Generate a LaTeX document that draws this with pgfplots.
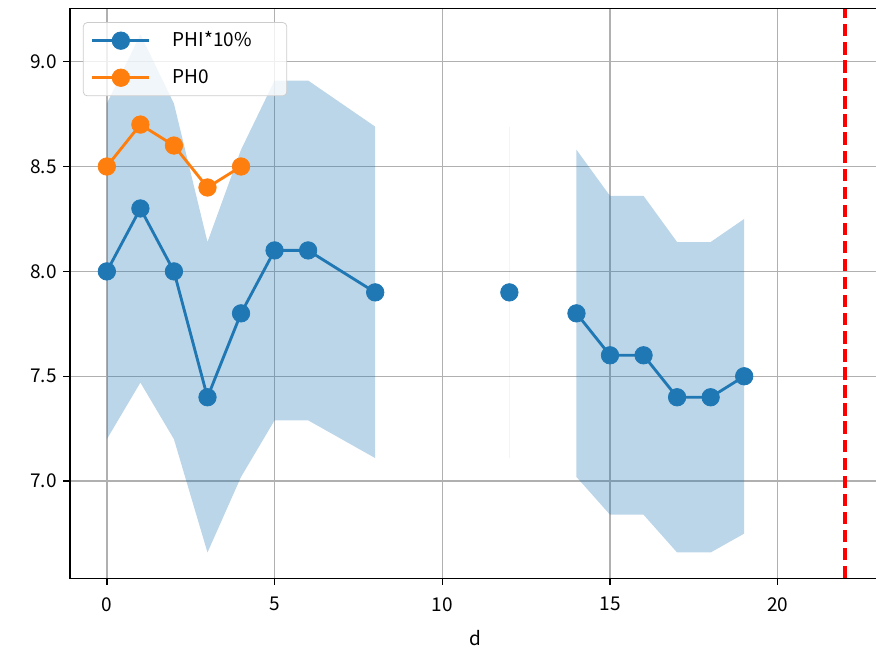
\documentclass[border=0pt]{standalone}
\usepackage{fontspec}
\setmainfont{Noto Sans CJK JP}
\usepackage{pgfplots}
\pgfplotsset{compat=1.18}

\definecolor{tabblue}{RGB}{31,119,180}
\definecolor{taborange}{RGB}{255,127,14}
\definecolor{gridgray}{RGB}{176,176,176}
\definecolor{legendedge}{RGB}{204,204,204}

\begin{document}
\begin{tikzpicture}
\path[use as bounding box] (-36.8pt,-40.9pt) rectangle (424pt,304.2pt);
\begin{axis}[
    at={(0,0)}, anchor=south west,
    scale only axis,
    width=427pt, height=299.7pt,
    xmin=-1.1, xmax=23.1,
    ymin=6.537, ymax=9.253,
    xtick={0,5,10,15,20},
    ytick={7.0,7.5,8.0,8.5,9.0},
    yticklabel style={/pgf/number format/.cd, fixed, fixed zerofill, precision=1},
    /pgf/number format/assume math mode=true,
    tick label style={font=\fontsize{10}{12}\selectfont},
    xticklabel style={yshift=-3pt},
    label style={font=\fontsize{10}{12}\selectfont},
    xlabel={d},
    xlabel style={yshift=-3pt},
    grid=major,
    major grid style={gridgray, line width=0.8pt},
    axis line style={line width=0.8pt},
    tick style={black, line width=0.8pt},
    tick align=outside,
    major tick length=3.5pt,
    xtick pos=bottom, ytick pos=left,
    unbounded coords=jump,
    legend cell align=left,
    legend style={at={(0.016,0.976)}, anchor=north west,
        draw=legendedge, rounded corners=2pt,
        fill=white, fill opacity=0.8, text opacity=1,
        font=\fontsize{10}{12}\selectfont,
        row sep=6.5pt, column sep=10pt,
        inner xsep=4pt, inner ysep=3pt,
        nodes={inner sep=1.5pt, text height=8pt, text depth=2pt},
        /tikz/column 2/.style={nodes={text width=54.5pt}}},
    legend image code/.code={%
        \draw[mark repeat=2, mark phase=2, #1, opacity=1] plot coordinates {(0pt,0pt) (15pt,0pt) (30pt,0pt)};},
]
% +/-10% band around PHI
\addplot[fill=tabblue, fill opacity=0.3, draw=none, forget plot] coordinates {
    (0,8.80) (1,9.13) (2,8.80) (3,8.14) (4,8.58) (5,8.91) (6,8.91) (8,8.69)
    (8,7.11) (6,7.29) (5,7.29) (4,7.02) (3,6.66) (2,7.20) (1,7.47) (0,7.20)};
\addplot[draw=tabblue, draw opacity=0.07, line width=0.6pt, forget plot] coordinates {
    (12,7.11) (12,8.69)};
\addplot[fill=tabblue, fill opacity=0.3, draw=none, forget plot] coordinates {
    (14,8.58) (15,8.36) (16,8.36) (17,8.14) (18,8.14) (19,8.25)
    (19,6.75) (18,6.66) (17,6.66) (16,6.84) (15,6.84) (14,7.02)};

\addplot[tabblue, line width=1.5pt, mark=*, mark size=4.6pt, mark options={solid, line width=0.4pt}] coordinates {
    (0,8.0) (1,8.3) (2,8.0) (3,7.4) (4,7.8) (5,8.1) (6,8.1) (8,7.9)
    (10,nan) (12,7.9) (13,nan)
    (14,7.8) (15,7.6) (16,7.6) (17,7.4) (18,7.4) (19,7.5)};
\addlegendentry{PHI*10\%}

\addplot[taborange, line width=1.5pt, mark=*, mark size=4.6pt, mark options={solid, line width=0.4pt}] coordinates {
    (0,8.5) (1,8.7) (2,8.6) (3,8.4) (4,8.5)};
\addlegendentry{PH0}

\addplot[red, line width=2pt, dash pattern=on 6.5pt off 3pt, forget plot] coordinates {
    (22,6.537) (22,9.253)};
\end{axis}
\end{tikzpicture}
\end{document}
